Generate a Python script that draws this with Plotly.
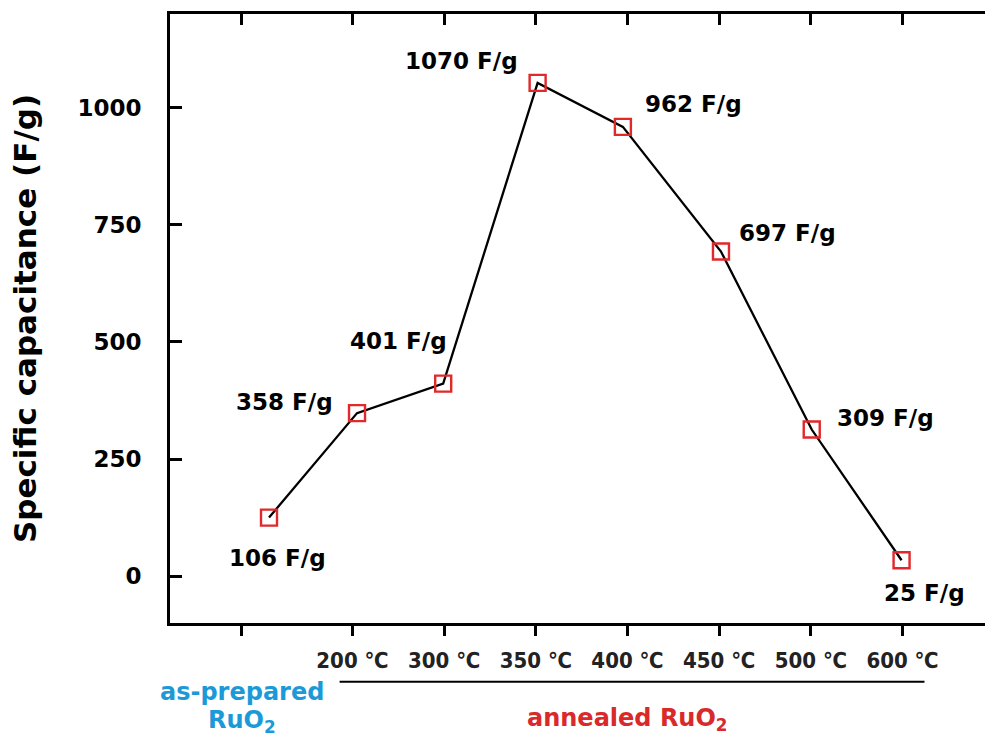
import plotly.graph_objects as go

# ---- data ----
categories = ["as-prepared", "200 ℃", "300 ℃", "350 ℃", "400 ℃", "450 ℃", "500 ℃", "600 ℃"]
tick_positions = [-0.21, 1, 2, 3, 4, 5, 6, 7]
tick_labels = ["", "200 ℃", "300 ℃", "350 ℃", "400 ℃", "450 ℃", "500 ℃", "600 ℃"]
x_positions = [0.09, 1.05, 1.99, 3.02, 3.95, 5.02, 6.01, 6.99]
capacitance_plotted = [125, 348, 411, 1053, 959, 693, 313, 34]
capacitance_labels = ["106 F/g", "358 F/g", "401 F/g", "1070 F/g", "962 F/g", "697 F/g", "309 F/g", "25 F/g"]
y_ticks = [0, 250, 500, 750, 1000]

# label offsets in pixels (style)
label_shifts = [(8, -40), (-73, 11), (-45, 43), (-76, 22), (71, 23), (67, 19), (74, 12), (23, -33)]

BOLD = "DejaVu Sans"
fig = go.Figure()
fig.add_trace(go.Scatter(
    x=x_positions, y=capacitance_plotted, mode="lines+markers",
    line=dict(color="black", width=2.3),
    marker=dict(symbol="square-open", size=16, color="#e0292b", line=dict(width=2.4, color="#e0292b")),
    showlegend=False, hoverinfo="skip"))
fig.add_trace(go.Scatter(x=x_positions, y=capacitance_plotted, xaxis="x2", mode="markers",
                         marker=dict(opacity=0), showlegend=False, hoverinfo="skip"))

annotations = []
for xv, yv, txt, (dx, dy) in zip(x_positions, capacitance_plotted, capacitance_labels, label_shifts):
    annotations.append(dict(x=xv, y=yv, xref="x", yref="y", text="<b>%s</b>" % txt, showarrow=False,
                            xshift=dx, yshift=dy, font=dict(family=BOLD, size=23, color="black")))

annotations += [
    dict(x=tick_positions[0], y=-0.113, xref="x", yref="paper", yanchor="middle", xanchor="center",
         text="<b>as-prepared</b>", showarrow=False,
         font=dict(family=BOLD, size=24, color="#1c9ad8")),
    dict(x=tick_positions[0], y=-0.161, xref="x", yref="paper", yanchor="middle", xanchor="center",
         text="<b>RuO<sub>2</sub></b>", showarrow=False,
         font=dict(family=BOLD, size=24, color="#1c9ad8")),
    dict(x=4.0, y=-0.158, xref="x", yref="paper", yanchor="middle", xanchor="center",
         text="<b>annealed RuO<sub>2</sub></b>", showarrow=False,
         font=dict(family=BOLD, size=24, color="#d9292b")),
]

fig.update_layout(
    width=985, height=738,
    margin=dict(l=170, r=0, t=14, b=115),
    paper_bgcolor="white", plot_bgcolor="white",
    annotations=annotations,
    shapes=[dict(type="line", xref="x", yref="paper", x0=0.86, x1=7.24, y0=-0.0963, y1=-0.0963,
                 line=dict(color="black", width=2))],
    xaxis=dict(range=[-0.99, 7.9], tickvals=tick_positions, ticktext=tick_labels, automargin=False,
               ticks="outside", ticklen=10, tickwidth=2.5, tickcolor="black",
               showline=True, linewidth=3, linecolor="black", showgrid=False, zeroline=False,
               ticklabelstandoff=6,
               tickfont=dict(family="Liberation Sans Narrow, Arial Narrow, DejaVu Sans Condensed", size=22, color="#222", weight="bold")),
    xaxis2=dict(overlaying="x", side="top", matches="x", range=[-0.99, 7.9], tickvals=tick_positions,
                automargin=False,
                ticktext=["" for _ in tick_positions], ticks="inside", ticklen=11, tickwidth=2.5,
                tickcolor="black", showline=True, linewidth=3, linecolor="black", showgrid=False, zeroline=False),
    yaxis=dict(range=[-100, 1200], tickvals=y_ticks, ticks="inside", ticklen=12, tickwidth=2.5, automargin=False,
               tickcolor="black", showline=True, linewidth=3, linecolor="black", showgrid=False, zeroline=False,
               ticklabelstandoff=21,
               tickfont=dict(family=BOLD, size=23, color="black", weight="bold"),
               title=dict(text="<b>Specific capacitance (F/g)</b>", standoff=32,
                          font=dict(family=BOLD, size=31, color="black"))),
)

fig.write_html("out.html", config={"displayModeBar": False},
               post_script="document.body.style.margin='0';document.body.style.overflow='hidden';")
